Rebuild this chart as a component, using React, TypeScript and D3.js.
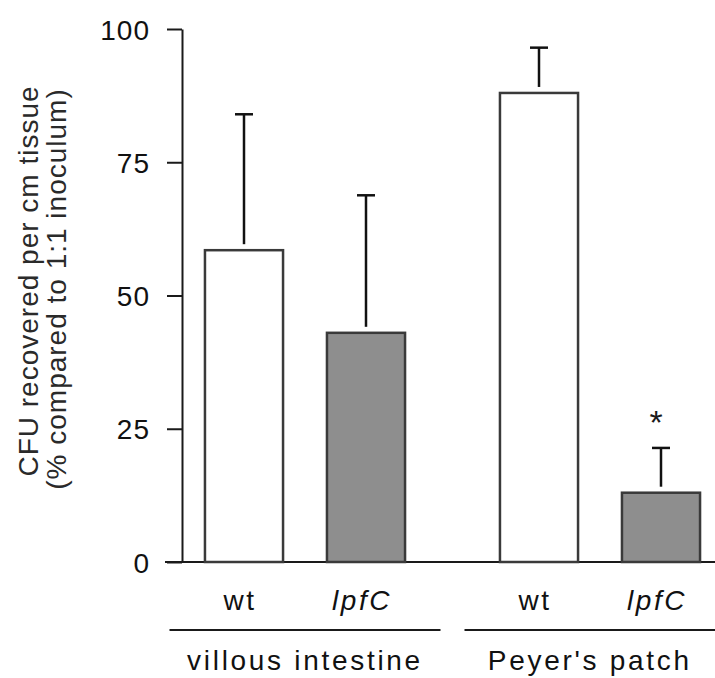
import React from 'react'
import * as d3 from 'd3'

const groups = ['villous intestine', "Peyer's patch"]
const strains = ['wt', 'lpfC']
const villousMeans = [58.5, 43]
const villousErrors = [25.5, 25.8]
const peyerMeans = [88, 13]
const peyerErrors = [8.5, 8.4]
const peyerMarks = ['', '*']
const villousMarks = ['', '']
const yTicks = [0, 25, 50, 75, 100]

const width = 715
const height = 678
const font = '"Liberation Sans", Arial, Helvetica, sans-serif'

function App() {
  const axisRef = React.useRef<SVGGElement>(null)

  const y = d3.scaleLinear().domain([0, 100]).range([562, 29])
  const x0 = d3.scaleBand().domain(groups).range([157.5, 747.5]).padding(0)
  const x1 = d3
    .scaleBand()
    .domain(strains)
    .range([0, x0.bandwidth()])
    .paddingInner(0.36)
    .paddingOuter(0.389)

  const rows = [
    { group: groups[0], means: villousMeans, errors: villousErrors, marks: villousMarks },
    { group: groups[1], means: peyerMeans, errors: peyerErrors, marks: peyerMarks }
  ]

  const bars = rows.flatMap(r =>
    strains.map((s, i) => ({
      group: r.group,
      strain: s,
      value: r.means[i],
      err: r.errors[i],
      mark: r.marks[i],
      x: (x0(r.group) as number) + (x1(s) as number)
    }))
  )

  const axisX = 182

  React.useEffect(() => {
    const yAxis = d3
      .axisLeft(y)
      .tickValues(yTicks)
      .tickSize(15)
      .tickSizeOuter(0)
      .tickPadding(17)
    const g = d3.select(axisRef.current)
    g.call(yAxis as any)
    g.attr('font-family', font).attr('font-size', 28)
    g.select('.domain').attr('stroke', '#1a1a1a').attr('stroke-width', 2)
    g.selectAll('.tick line').attr('stroke', '#1a1a1a').attr('stroke-width', 2)
    g.selectAll('.tick text')
      .attr('fill', '#111')
      .attr('letter-spacing', 1)
      .attr('dy', '0.36em')
  }, [])

  const bw = x1.bandwidth()
  const capHalf = 9
  const gap = 6

  return (
    <svg
      width={width}
      height={height}
      style={{ position: 'absolute', left: 0, top: 0, background: '#fff' }}
      fontFamily={font}
    >
      {/* y axis title */}
      <text
        transform={'translate(38, 281) rotate(-90)'}
        textAnchor="middle"
        fontSize={28}
        letterSpacing={1}
        fill="#2a2a2a"
      >
        CFU recovered per cm tissue
      </text>
      <text
        transform={'translate(66, 289) rotate(-90)'}
        textAnchor="middle"
        fontSize={28}
        letterSpacing={1}
        fill="#2a2a2a"
      >
        (% compared to 1:1 inoculum)
      </text>

      {/* baseline */}
      <line
        x1={axisX - 17}
        x2={width}
        y1={y(0)}
        y2={y(0)}
        stroke="#1a1a1a"
        strokeWidth={2}
      />

      {bars.map((d, i) => (
        <g key={i}>
          <line
            x1={d.x + bw / 2}
            x2={d.x + bw / 2}
            y1={y(d.value) - gap}
            y2={y(d.value + d.err)}
            stroke="#111"
            strokeWidth={2.5}
          />
          <line
            x1={d.x + bw / 2 - capHalf}
            x2={d.x + bw / 2 + capHalf}
            y1={y(d.value + d.err)}
            y2={y(d.value + d.err)}
            stroke="#111"
            strokeWidth={2.5}
          />
          <rect
            x={d.x}
            y={y(d.value)}
            width={bw}
            height={y(0) - y(d.value)}
            fill={d.strain === 'wt' ? '#ffffff' : '#8e8e8e'}
            stroke="#3a3a3a"
            strokeWidth={2.5}
          />
          {d.mark && (
            <text
              x={d.x + bw / 2 - 5}
              y={y(d.value + d.err) - 14}
              textAnchor="middle"
              fontSize={34}
              fill="#1a1a1a"
            >
              {d.mark}
            </text>
          )}
          <text
            x={d.x + bw / 2 - 4}
            y={610}
            textAnchor="middle"
            fontSize={28}
            letterSpacing={2.5}
            fontStyle={d.strain === 'wt' ? 'normal' : 'italic'}
            fill="#111"
          >
            {d.strain}
          </text>
        </g>
      ))}

      {groups.map((g, i) => {
        const left = (x0(g) as number) + 12
        const right = (x0(g) as number) + x0.bandwidth() - 12
        const mid = (left + Math.min(right, width)) / 2
        return (
          <g key={g}>
            <line x1={left} x2={right} y1={630} y2={630} stroke="#1a1a1a" strokeWidth={2} />
            <text
              x={mid}
              y={670}
              textAnchor="middle"
              fontSize={28}
              letterSpacing={2.7}
              fill="#111"
            >
              {g}
            </text>
          </g>
        )
      })}

      <g ref={axisRef} transform={`translate(${axisX}, 0)`} />
    </svg>
  )
}

export default App
